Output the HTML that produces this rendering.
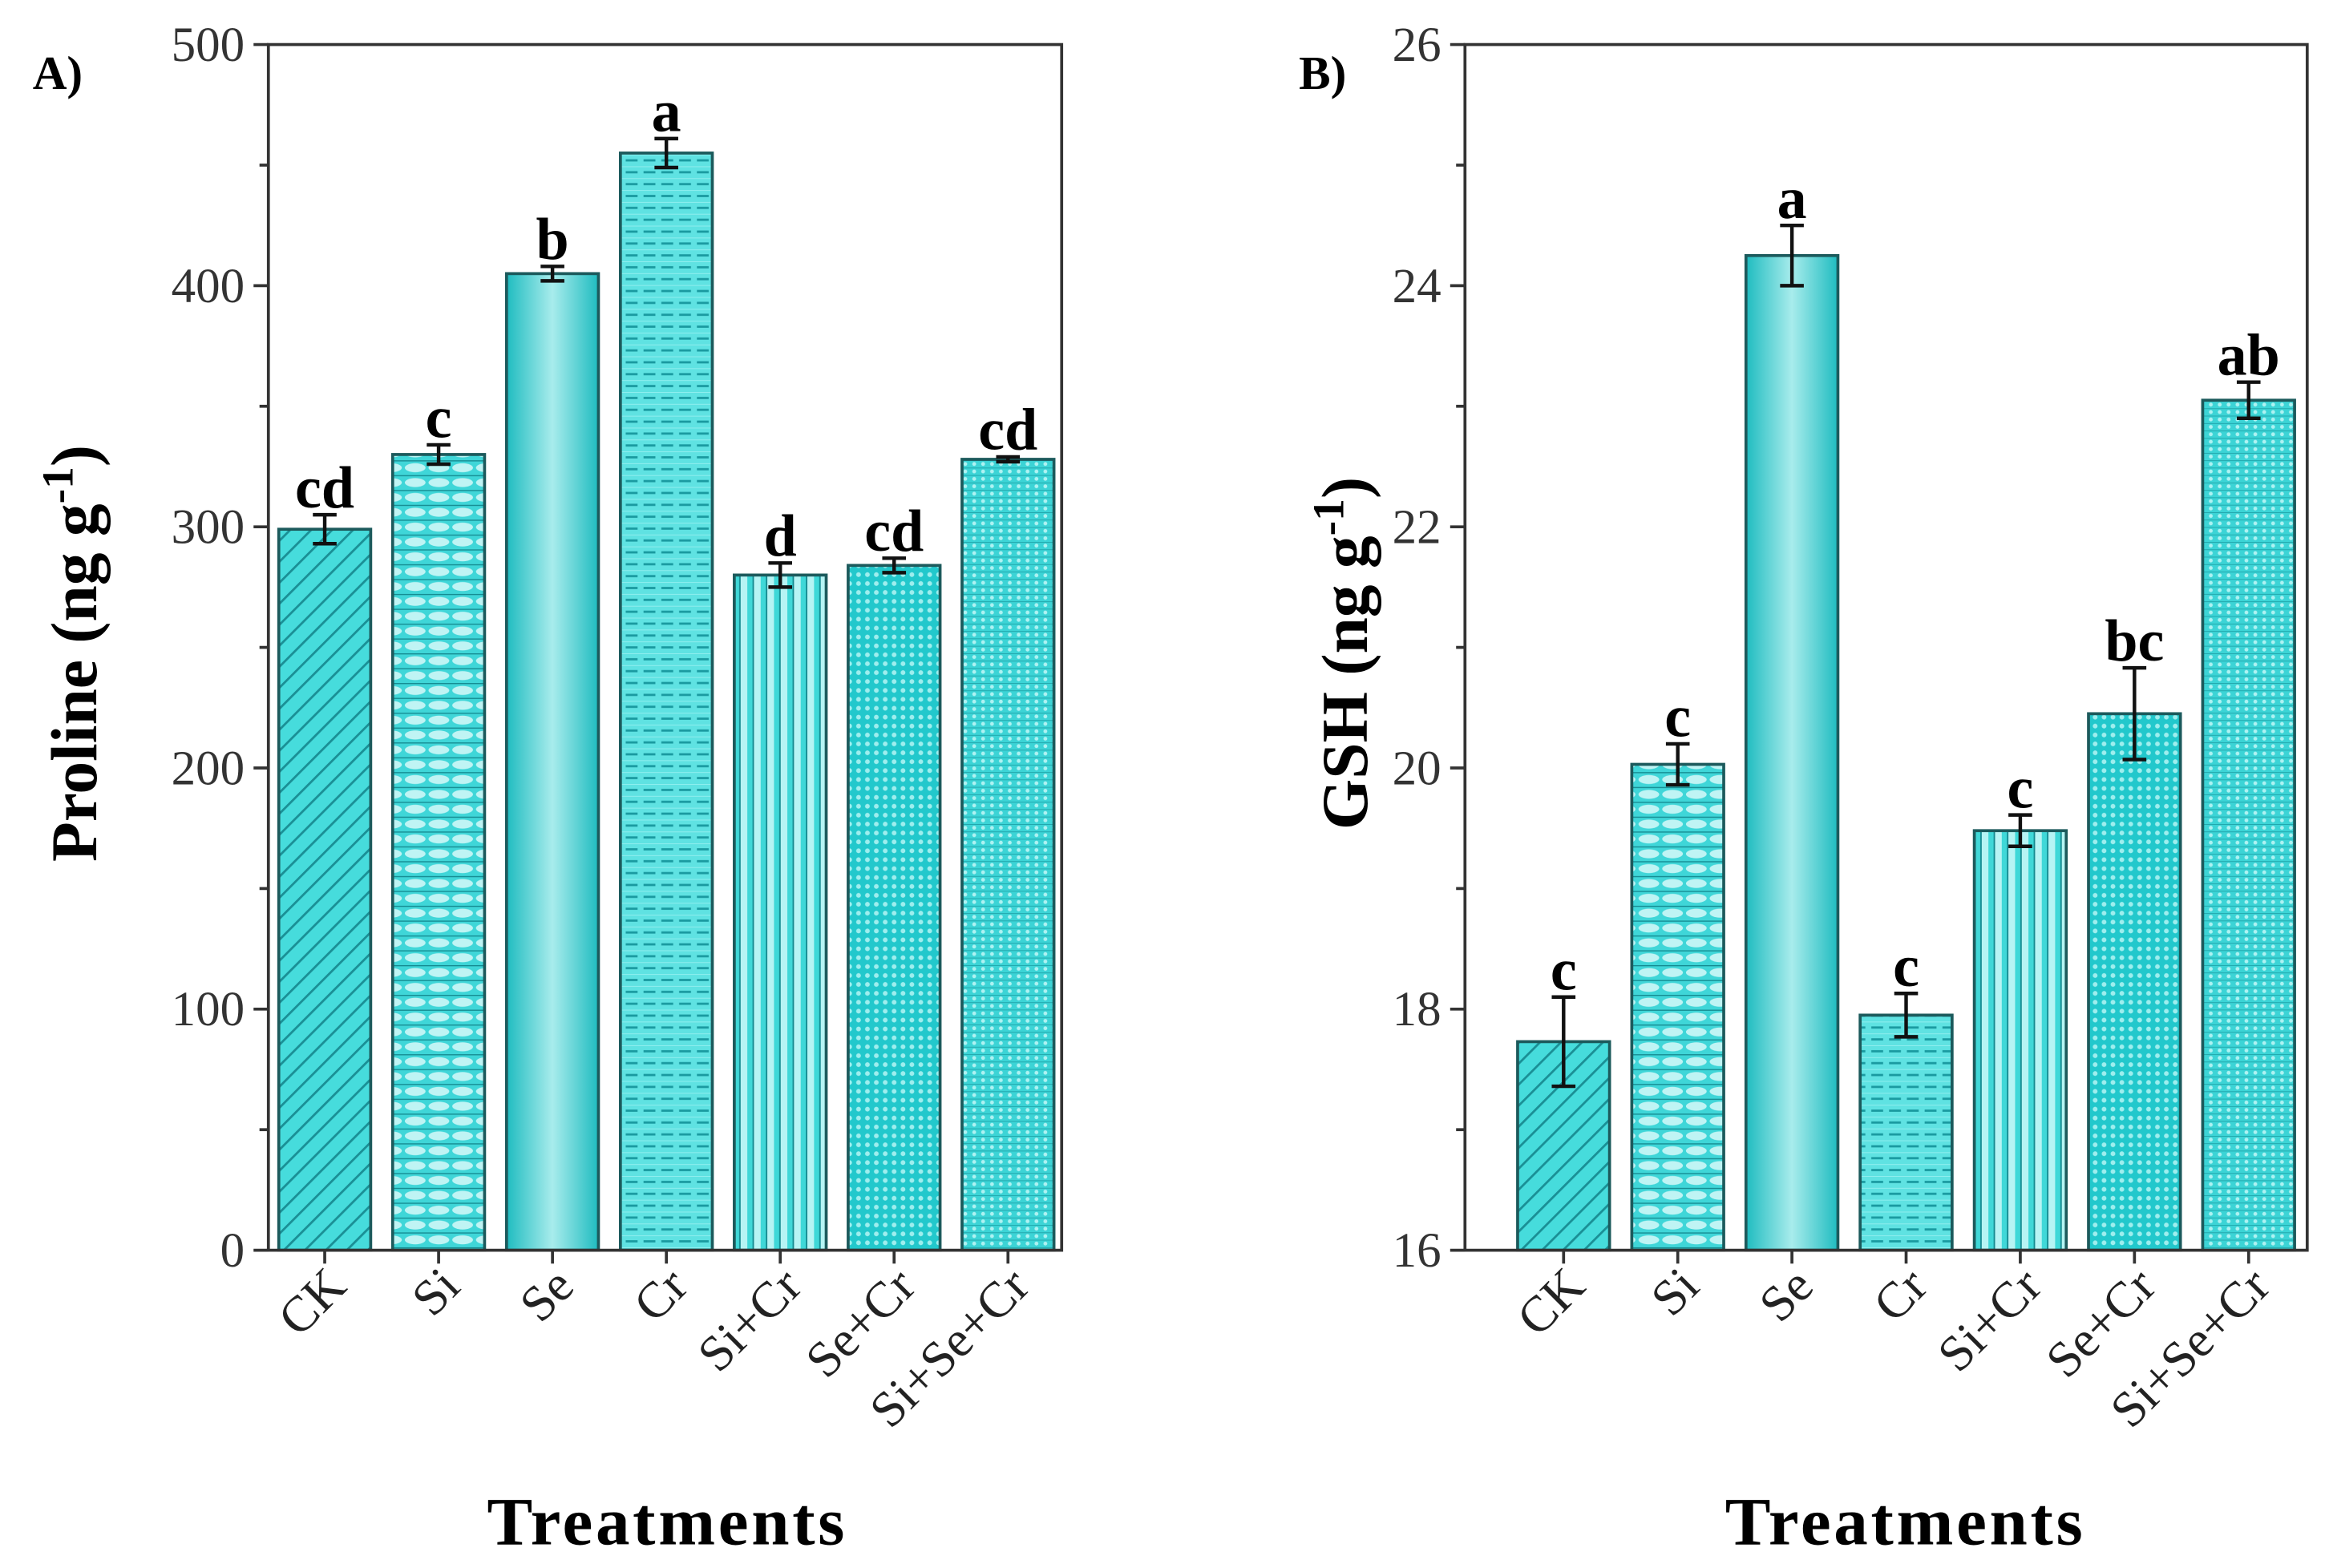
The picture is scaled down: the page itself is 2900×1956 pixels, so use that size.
<!DOCTYPE html>
<html><head><meta charset="utf-8"><style>html,body{margin:0;padding:0;background:#fff}svg{display:block}</style></head>
<body>
<svg id="fig" width="2900" height="1956" viewBox="0 0 1568 1056" preserveAspectRatio="none" xmlns="http://www.w3.org/2000/svg" font-family="'Liberation Serif', serif">
<defs>
<pattern id="p0" width="10" height="10" patternUnits="userSpaceOnUse" patternTransform="rotate(45)"><rect width="10" height="10" fill="#46dcdc"/><line x1="0" y1="0" x2="0" y2="10" stroke="#1a8f95" stroke-width="3"/></pattern>
<pattern id="p1" width="16" height="10" patternUnits="userSpaceOnUse"><rect width="16" height="10" fill="#3fd6d8"/><ellipse cx="8" cy="5" rx="7" ry="3" fill="#bff4f4"/><line x1="0" y1="0" x2="16" y2="0" stroke="#158a90" stroke-width="1.5"/></pattern>
<linearGradient id="p2" x1="0" x2="1" y1="0" y2="0"><stop offset="0" stop-color="#1fbcc0"/><stop offset="0.5" stop-color="#a8ecec"/><stop offset="1" stop-color="#1fbcc0"/></linearGradient>
<pattern id="p3" width="12" height="8" patternUnits="userSpaceOnUse"><rect width="12" height="8" fill="#5fe2e2"/><line x1="2" y1="4" x2="10" y2="4" stroke="#1a9aa0" stroke-width="1.5"/><line x1="0" y1="0" x2="12" y2="0" stroke="#8feeee" stroke-width="1"/></pattern>
<pattern id="p4" width="9" height="10" patternUnits="userSpaceOnUse"><rect width="9" height="10" fill="#b6f4f4"/><rect width="4" height="10" fill="#3fd8d8"/><line x1="4" y1="0" x2="4" y2="10" stroke="#158a90" stroke-width="1"/></pattern>
<pattern id="p5" width="6" height="6" patternUnits="userSpaceOnUse"><rect width="6" height="6" fill="#22c8cc"/><circle cx="3" cy="3" r="1.6" fill="#9eeeee"/></pattern>
<pattern id="p6" width="6" height="5" patternUnits="userSpaceOnUse"><rect width="6" height="5" fill="#3cd4d6"/><circle cx="3" cy="2.5" r="1.3" fill="#aef2f2"/><line x1="0" y1="0" x2="6" y2="0" stroke="#1a9aa0" stroke-width="0.8"/></pattern>
</defs>
<g id="panelA"></g>
<g id="panelB"></g>
</svg>
<script>
var categories = ["CK","Si","Se","Cr","Si+Cr","Se+Cr","Si+Se+Cr"];
var prolineValues = [299, 330, 405, 455, 280, 284, 328];
var prolineErrors = [6, 4, 3, 6, 5, 3, 1];
var prolineLetters = ["cd","c","b","a","d","cd","cd"];
var prolineTicks = [0,100,200,300,400,500];
var gshValues = [17.73, 20.03, 24.25, 17.95, 19.48, 20.45, 23.05];
var gshErrors = [0.37, 0.17, 0.25, 0.18, 0.13, 0.38, 0.15];
var gshLetters = ["c","c","a","c","c","bc","ab"];
var gshTicks = [16,18,20,22,24,26];
var fills = ["url(#p0)","url(#p1)","url(#p2)","url(#p3)","url(#p4)","url(#p5)","url(#p6)"];
var NS = "http://www.w3.org/2000/svg";
function mk(parent, tag, attrs, text){
  var e = document.createElementNS(NS, tag);
  for (var k in attrs) e.setAttribute(k, attrs[k]);
  if (text !== undefined) e.textContent = text;
  parent.appendChild(e); return e;
}
function draw(g, cfg){
  var L=cfg.L,R=cfg.R,T=cfg.T,B=cfg.B,ymin=cfg.ymin,ymax=cfg.ymax,vals=cfg.vals,errs=cfg.errs,letters=cfg.letters,ticks=cfg.ticks;
  function y(v){ return B - (v - ymin) / (ymax - ymin) * (B - T); }
  var bw = 62;
  function xc(i){ return cfg.x0 + cfg.step * i; }
  for (var i=0;i<vals.length;i++){
    var v = vals[i];
    var r = mk(g,'rect',{x:xc(i)-bw/2,y:y(v),width:bw,height:B-y(v),fill:fills[i],stroke:'#1c5a5c','stroke-width':2});
    
    
    var top=y(v+errs[i]), bot=y(v-errs[i]), c=xc(i);
    var eb = mk(g,'path',{d:'M'+(c-8)+' '+top+'H'+(c+8)+'M'+c+' '+top+'V'+bot+'M'+(c-8)+' '+bot+'H'+(c+8),stroke:'#111','stroke-width':2.4,fill:'none'});
    
    
    var t = mk(g,'text',{x:c,y:top-5,'text-anchor':'middle','font-size':40,'font-weight':'bold'},letters[i]);
    
    
    var tk = mk(g,'line',{x1:c,x2:c,y1:B,y2:B+9,stroke:'#333','stroke-width':2});
    
    
    var lx=c+16, ly=B+26;
    var lab = mk(g,'text',{x:lx,y:ly,'text-anchor':'end','font-size':34,transform:'rotate(-45 '+lx+' '+ly+')',fill:'#222'},categories[i]);
    
    
  }
  var fr = mk(g,'rect',{x:L,y:T,width:R-L,height:B-T,fill:'none',stroke:'#333','stroke-width':2});
  
  
  for (var j=0;j<ticks.length;j++){
    var tv=ticks[j];
    var tk2 = mk(g,'line',{x1:L-10,x2:L,y1:y(tv),y2:y(tv),stroke:'#333','stroke-width':2});
    
    
    var tl = mk(g,'text',{x:L-16,y:y(tv)+11,'text-anchor':'end','font-size':33,fill:'#333'},String(tv));
    
    
    if (j<ticks.length-1){
      var mv=(ticks[j]+ticks[j+1])/2;
      var mt = mk(g,'line',{x1:L-6,x2:L,y1:y(mv),y2:y(mv),stroke:'#333','stroke-width':2});
      
      
    }
  }
  var yl = mk(g,'text',{x:0,y:0,'text-anchor':'middle','font-size':44,'font-weight':'bold',transform:'translate('+cfg.ylx+' '+cfg.yly+') rotate(-90)'});
  
  
  mk(yl,'tspan',{},cfg.ylabel+' (ng g');
  mk(yl,'tspan',{dy:-16,'font-size':30},'-1');
  mk(yl,'tspan',{dy:16},')');
  var xl = mk(g,'text',{x:cfg.xlabelX,y:1040,'text-anchor':'middle','font-size':46,'font-weight':'bold','letter-spacing':'2'},'Treatments');
  
  
  var pl = mk(g,'text',{x:cfg.plx,y:60,'font-size':32,'font-weight':'bold'},cfg.panel);
  
  
}
draw(document.getElementById('panelA'),{L:181,R:716,T:30,B:842,x0:219,step:76.8,ymin:0,ymax:500,vals:prolineValues,errs:prolineErrors,letters:prolineLetters,ticks:prolineTicks,ylabel:'Proline',panel:'A)',xlabelX:450,ylx:65,yly:440,plx:22});
draw(document.getElementById('panelB'),{L:988,R:1556,T:30,B:842,x0:1054.5,step:77,ymin:16,ymax:26,vals:gshValues,errs:gshErrors,letters:gshLetters,ticks:gshTicks,ylabel:'GSH',panel:'B)',xlabelX:1285,ylx:922,yly:440,plx:876});
</script>
</body></html>
